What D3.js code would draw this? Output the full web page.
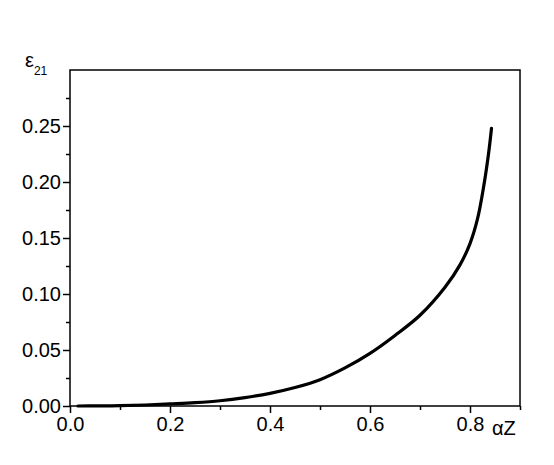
<!DOCTYPE html>
<html>
<head>
<meta charset="utf-8">
<script src="https://cdn.jsdelivr.net/npm/d3@7"></script>
<style>
    body { margin: 0; background: #fff; }
    svg { display: block; }
    text { font-family: "Liberation Sans", Arial, sans-serif; fill: #000; }
</style>
</head>
<body>
<div id="chart"></div>
<script>
// curve: eps21 against alpha*Z
const alphaZ = [0.016, 0.05, 0.1, 0.15, 0.2, 0.25, 0.3, 0.35, 0.4, 0.45, 0.5, 0.55, 0.6, 0.65, 0.7,
    0.75, 0.78, 0.8, 0.815, 0.827, 0.837, 0.843];
const eps21 = [0.0, 0.0001, 0.0003, 0.0009, 0.0019, 0.003, 0.0047, 0.0075, 0.0113, 0.0165, 0.0235,
    0.034, 0.047, 0.063, 0.081, 0.106, 0.126, 0.145, 0.167, 0.195, 0.225, 0.248];

const xMajor = [0.0, 0.2, 0.4, 0.6, 0.8];
const xMinor = [0.1, 0.3, 0.5, 0.7, 0.9];
const yMajor = [0.00, 0.05, 0.10, 0.15, 0.20, 0.25];
const yMinor = [0.025, 0.075, 0.125, 0.175, 0.225, 0.275];

const WIDTH = 554, HEIGHT = 465;
const M = { left: 70, right: 34, top: 70, bottom: 59 };

const svg = d3.select('#chart').append('svg')
    .attr('width', WIDTH)
    .attr('height', HEIGHT);

const x = d3.scaleLinear().domain([0, 0.9]).range([M.left, WIDTH - M.right]);
const y = d3.scaleLinear().domain([0, 0.3]).range([HEIGHT - M.bottom, M.top]);

// bottom axis: major + minor ticks pointing out
const xAxis = svg.append('g')
    .attr('transform', 'translate(0,' + (HEIGHT - M.bottom) + ')');
xAxis.call(d3.axisBottom(x).tickValues(xMajor).tickSize(7).tickPadding(4)
    .tickFormat(d3.format('.1f')));
xAxis.append('g').call(d3.axisBottom(x).tickValues(xMinor).tickSize(4).tickFormat(''));

const yAxis = svg.append('g')
    .attr('transform', 'translate(' + M.left + ',0)');
yAxis.call(d3.axisLeft(y).tickValues(yMajor).tickSize(7).tickPadding(2)
    .tickFormat(d3.format('.2f')));
yAxis.append('g').call(d3.axisLeft(y).tickValues(yMinor).tickSize(4).tickFormat(''));

svg.selectAll('.domain').remove();
svg.selectAll('.tick line').attr('stroke', '#000').attr('stroke-width', 1.5);
svg.selectAll('.tick text').style('font-size', '20px');

// frame
svg.append('rect')
    .attr('x', x(0)).attr('y', y(0.3))
    .attr('width', x(0.9) - x(0)).attr('height', y(0) - y(0.3))
    .attr('fill', 'none').attr('stroke', '#000').attr('stroke-width', 1.5);

const line = d3.line()
    .x((d, i) => x(alphaZ[i]))
    .y(d => y(d))
    .curve(d3.curveCatmullRom.alpha(0.5));

svg.append('path')
    .datum(eps21)
    .attr('d', line)
    .attr('fill', 'none')
    .attr('stroke', '#000')
    .attr('stroke-width', 3.2)
    .attr('stroke-linecap', 'round');

// axis titles
const yTitle = svg.append('text')
    .attr('x', 25).attr('y', 67)
    .style('font-size', '20px');
yTitle.append('tspan').text('ε');
yTitle.append('tspan').attr('dy', 8).style('font-size', '12px').text('21');

svg.append('text')
    .attr('x', 492).attr('y', 435)
    .style('font-size', '20px')
    .text('αZ');
</script>
</body>
</html>
